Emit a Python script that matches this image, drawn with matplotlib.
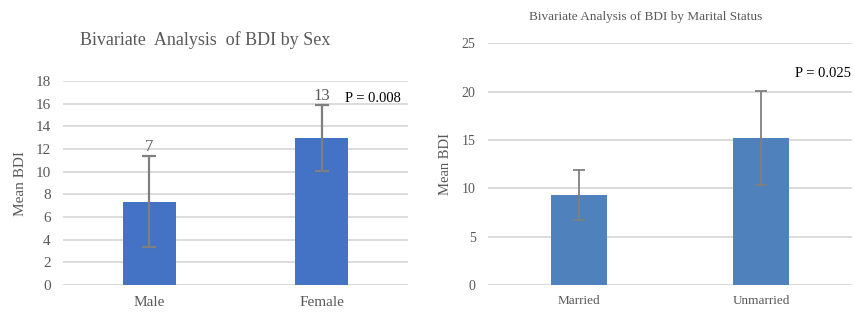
import matplotlib
matplotlib.use('Agg')
import matplotlib.pyplot as plt

plt.rcParams['font.family'] = ['Liberation Serif', 'DejaVu Serif']

# Sex chart
sex_cats = ['Male', 'Female']
sex_means = [7.35, 12.95]
sex_err = [4.0, 2.9]
sex_labels = ['7', '13']
sex_p = 'P = 0.008'
sex_ticks = [0, 2, 4, 6, 8, 10, 12, 14, 16, 18]

# Marital status chart
mar_cats = ['Married', 'Unmarried']
mar_means = [9.3, 15.2]
mar_err = [2.55, 4.9]
mar_p = 'P = 0.025'
mar_ticks = [0, 5, 10, 15, 20, 25]

W, H = 855, 316
fig = plt.figure(figsize=(W / 100, H / 100), dpi=100)
txt = '#595959'
grid = '#d9d9d9'


def style(ax, ticks, fs, pad):
    for s in ax.spines.values():
        s.set_visible(False)
    ax.set_yticks(ticks)
    ax.set_ylim(ticks[0], ticks[-1])
    ax.set_xlim(-0.5, 1.5)
    ax.yaxis.grid(True, color=grid, linewidth=1.3)
    ax.set_axisbelow(True)
    ax.tick_params(length=0, labelsize=fs, colors=txt, pad=pad)


# left
ax1 = fig.add_axes([63 / W, 31 / H, 345 / W, 204 / H])
style(ax1, sex_ticks, 11, 9)
ax1.bar(range(2), sex_means, width=0.31, color='#4472C4', zorder=2)
ax1.errorbar(range(2), sex_means, yerr=sex_err, fmt='none', ecolor='#7f7f7f',
             elinewidth=1.6, capsize=5, capthick=1.6, zorder=3)
for i, lab in enumerate(sex_labels):
    ax1.text(i, sex_means[i] + sex_err[i] + 0.15, lab, ha='center', va='bottom',
             fontsize=12, color=txt)
ax1.text(1.46, 15.9, sex_p, ha='right', va='bottom', fontsize=10.5, color='black')
ax1.set_xticks(range(2))
ax1.set_xticklabels(sex_cats, fontsize=11)
ax1.tick_params(axis='x', pad=8)
ax1.set_ylabel('Mean BDI', fontsize=11, color=txt, labelpad=6)
fig.text(205 / W, 1 - 40 / H, 'Bivariate  Analysis  of BDI by Sex', ha='center',
         va='center', fontsize=13, color=txt)

# right
ax2 = fig.add_axes([488 / W, 31 / H, 364 / W, 241.7 / H])
style(ax2, mar_ticks, 10, 9)
ax2.bar(range(2), mar_means, width=0.31, color='#4F81BD', zorder=2)
ax2.errorbar(range(2), mar_means, yerr=mar_err, fmt='none', ecolor='#7f7f7f',
             elinewidth=1.3, capsize=4, capthick=1.3, zorder=3)
ax2.text(1.495, 21.2, mar_p, ha='right', va='bottom', fontsize=10.5,
         color='black', clip_on=False)
ax2.set_xticks(range(2))
ax2.set_xticklabels(mar_cats, fontsize=9.5)
ax2.tick_params(axis='x', pad=7)
ax2.set_ylabel('Mean BDI', fontsize=10.5, color=txt, labelpad=7)
fig.text(646 / W, 1 - 17 / H, 'Bivariate Analysis of BDI by Marital Status',
         ha='center', va='center', fontsize=9.5, color=txt)

fig.savefig('out.png', dpi=100)
